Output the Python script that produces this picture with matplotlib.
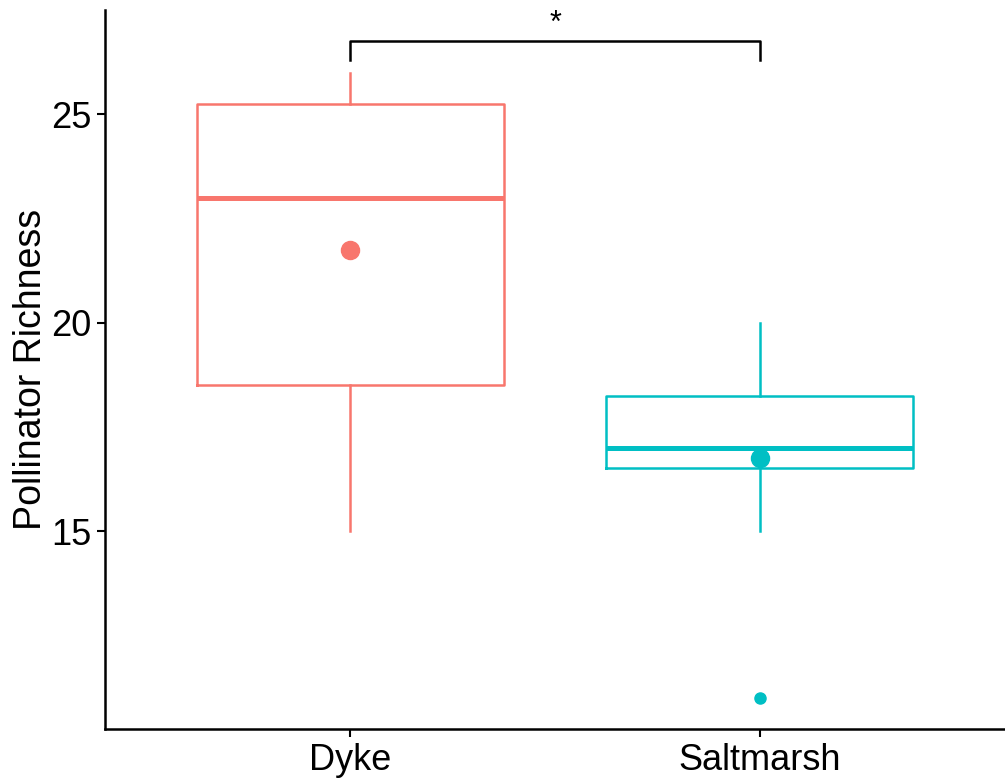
import numpy as np
import matplotlib.pyplot as plt

plt.rcParams['font.family'] = ['Liberation Sans', 'DejaVu Sans']

# data
groups = ["Dyke", "Saltmarsh"]
colors = ["#F8766D", "#00BFC4"]
q1 = [18.5, 16.5]
median = [23.0, 17.0]
q3 = [25.25, 18.25]
whislo = [15.0, 15.0]
whishi = [26.0, 20.0]
outliers = [[], [11.0]]
means = [21.75, 16.75]

# significance bracket
bracket_y = 26.75
bracket_drop = 26.3
sig_label = "*"

fig = plt.figure(figsize=(10.05, 7.78), dpi=100)
ax = fig.add_axes([105/1005, 1 - 729/778, 1 - 105/1005, (729 - 10)/778])

pos = np.arange(1, len(groups) + 1)
for i in range(len(groups)):
    stats = [dict(med=median[i], q1=q1[i], q3=q3[i], whislo=whislo[i],
                  whishi=whishi[i], fliers=outliers[i], label=groups[i])]
    c = colors[i]
    ax.bxp(stats, positions=[pos[i]], widths=0.75, showcaps=False,
           boxprops=dict(color=c, linewidth=1.8),
           whiskerprops=dict(color=c, linewidth=1.8),
           medianprops=dict(color=c, linewidth=3.6, solid_capstyle='butt'),
           flierprops=dict(marker='o', markerfacecolor=c, markeredgecolor=c,
                           markersize=8))
    ax.plot(pos[i], means[i], 'o', color=c, markersize=13, zorder=5)

ax.plot([pos[0], pos[0], pos[1], pos[1]],
        [bracket_drop, bracket_y, bracket_y, bracket_drop],
        color='black', linewidth=1.8)
ax.text((pos[0] + pos[1]) / 2, bracket_y + 0.06, sig_label, ha='center',
        va='bottom', fontsize=22)

ax.set_xlim(0.4, 2.6)
ax.set_ylim(10.25, 27.5)
ax.set_yticks([15, 20, 25])
ax.set_xticks(pos)
ax.set_xticklabels(groups)
ax.set_ylabel("Pollinator Richness", fontsize=27, labelpad=1)
ax.tick_params(labelsize=26, colors='black', width=1.5, length=6, pad=4)
for s in ['top', 'right']:
    ax.spines[s].set_visible(False)
for s in ['left', 'bottom']:
    ax.spines[s].set_linewidth(1.8)

fig.savefig("out.png", dpi=100)
